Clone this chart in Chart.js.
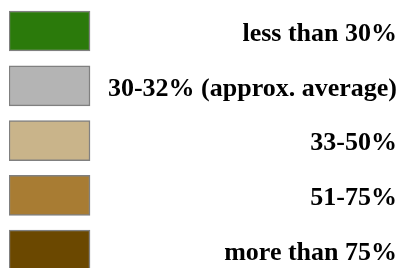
<!DOCTYPE html>
<html>
<head>
<meta charset="utf-8">
<script src="https://cdn.jsdelivr.net/npm/chart.js@4/dist/chart.umd.min.js"></script>
<style>
html,body{margin:0;padding:0;background:#fff;overflow:hidden;}
#wrap{width:404px;height:268px;}
</style>
</head>
<body>
<div id="wrap"><canvas id="c" width="404" height="268"></canvas></div>
<script>
const categories = ["less than 30%", "30-32% (approx. average)", "33-50%", "51-75%", "more than 75%"];
const boxStart = [0, 0, 0, 0, 0];
const boxEnd = [1, 1, 1, 1, 1];
const colors = ["#2b7a0b", "#b4b4b4", "#c9b48a", "#a87c33", "#6b4800"];

const data = categories.map((c, i) => ({ x: [boxStart[i], boxEnd[i]], y: i }));

new Chart(document.getElementById('c'), {
  type: 'bar',
  data: {
    datasets: [{
      data: data,
      backgroundColor: colors,
      borderColor: '#808080',
      borderWidth: 1.5,
      borderSkipped: false,
      barThickness: 40
    }]
  },
  options: {
    indexAxis: 'y',
    responsive: false,
    animation: false,
    events: [],
    layout: { padding: { left: 9, right: 7, top: 0, bottom: 0 } },
    plugins: { legend: { display: false }, tooltip: { enabled: false } },
    scales: {
      x: { type: 'linear', display: false, min: 0, max: 1.074, offset: false, bounds: 'data' },
      y: {
        type: 'linear',
        position: 'right',
        reverse: true,
        offset: false,
        bounds: 'data',
        min: -0.566,
        max: 4.325,
        afterFit: (s) => { s.width = 301; s.paddingTop = 0; s.paddingBottom = 0; },
        afterBuildTicks: (s) => { s.ticks = categories.map((c, i) => ({ value: i })); },
        grid: { display: false, drawTicks: false, offset: false },
        border: { display: false },
        ticks: {
          autoSkip: false,
          crossAlign: 'far',
          padding: 0,
          labelOffset: 3,
          color: '#000',
          font: { family: '"Liberation Serif", "Times New Roman", serif', size: 26, weight: 'bold' },
          callback: (v) => categories[v] !== undefined ? categories[v] : ''
        }
      }
    }
  }
});
</script>
</body>
</html>
